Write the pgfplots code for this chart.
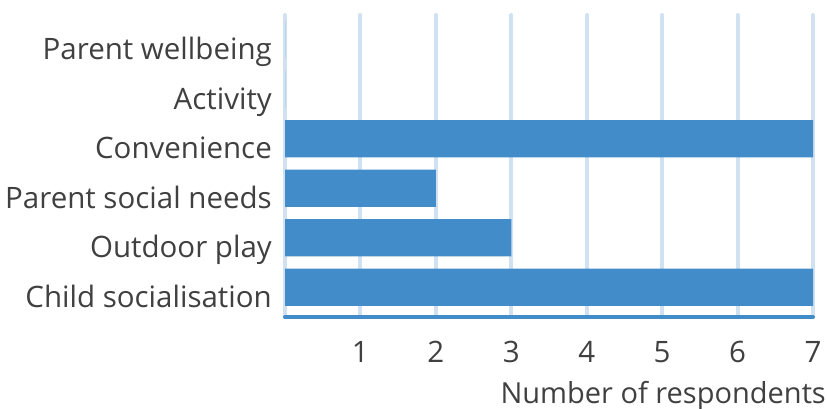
\documentclass[border=0pt]{standalone}
\usepackage{fontspec}
\setmainfont{Open Sans}
\usepackage{pgfplots}
\pgfplotsset{compat=1.18}
\definecolor{barblue}{HTML}{438CCA}
\definecolor{gridblue}{HTML}{D0E1F2}
\definecolor{txt}{HTML}{404040}
\begin{document}
\begin{tikzpicture}
\useasboundingbox (0,0) rectangle (827bp,409bp);
\begin{axis}[
  at={(285bp,92bp)}, anchor=south west, scale only axis,
  width=528bp, height=302bp,
  xbar, bar width=0.75,
  xmin=0, xmax=7, ymin=-0.6, ymax=5.5,
  ytick={0,...,5},
  yticklabels={Child socialisation, Outdoor play, Parent social needs, Convenience, Activity, Parent wellbeing},
  xtick={0,...,7}, xticklabels={,1,2,3,4,5,6,7},
  /pgf/number format/assume math mode=true,
  axis line style={draw=none},
  major tick length=0pt, tick style={draw=none},
  xmajorgrids, major grid style={gridblue, line width=4bp, line cap=round},
  ticklabel style={font=\fontsize{29.5bp}{35bp}\selectfont, text=txt},
  yticklabel style={inner sep=0pt, anchor=base east, xshift=-13bp, yshift=-20bp},
  xticklabel style={inner sep=0pt, anchor=base, yshift=-45bp},
  xlabel={Number of respondents},
  xlabel style={at={(axis description cs:1.0246,0)}, anchor=base east, yshift=-86bp, inner sep=0pt, font=\fontsize{29bp}{35bp}\selectfont, text=txt},
  clip=false,
]
\addplot[fill=barblue, draw=none] coordinates {(7,0) (3,1) (2,2) (7,3) (0,4) (0,5)};
\draw[barblue, line width=4bp, line cap=round] (axis cs:0,-0.6) -- (axis cs:7,-0.6);
\end{axis}
\end{tikzpicture}
\end{document}
